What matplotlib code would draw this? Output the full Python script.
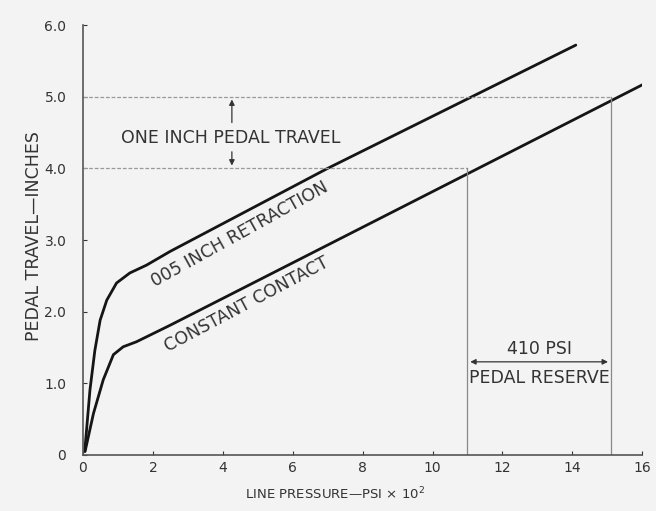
import matplotlib
matplotlib.use("Agg")
import matplotlib.pyplot as plt

# ---- data ----
retract_x = [0.05, 0.2, 0.34, 0.49, 0.68, 0.96, 1.34, 1.82, 2.49, 7.0, 14.1]
retract_y = [0.05, 0.91, 1.46, 1.88, 2.16, 2.40, 2.54, 2.65, 2.84, 4.0, 5.72]
contact_x = [0.06, 0.3, 0.58, 0.87, 1.15, 1.53, 2.49, 16.1]
contact_y = [0.05, 0.58, 1.05, 1.40, 1.51, 1.58, 1.81, 5.19]

xticks = [0, 2, 4, 6, 8, 10, 12, 14, 16]
yticks = [0, 1, 2, 3, 4, 5, 6]
ytick_labels = ["0", "1.0", "2.0", "3.0", "4.0", "5.0", "6.0"]

travel_low, travel_high = 4.0, 5.0
reserve_left, reserve_right = 11.0, 15.1

plt.rcParams['font.family'] = ['DejaVu Sans']

big = 12.5
small = 10

txt = '#333333'
fig = plt.figure(figsize=(6.56, 5.11), dpi=100, facecolor='#f3f3f3')
ax = fig.add_axes([0.1265, 0.1096, 0.8525, 0.8414])
ax.set_facecolor('#f3f3f3')

ax.plot(retract_x, retract_y, color='#151515', lw=2.0, solid_capstyle='round', solid_joinstyle='round')
ax.plot(contact_x, contact_y, color='#151515', lw=2.0, solid_capstyle='round', solid_joinstyle='round')

# reference dashed lines
ax.plot([0, reserve_right], [travel_high, travel_high], color='#999999', lw=0.9, ls=(0, (3, 1.5)))
ax.plot([0, reserve_left], [travel_low, travel_low], color='#999999', lw=0.9, ls=(0, (3, 1.5)))
ax.plot([reserve_left, reserve_left], [0, travel_low], color='#888888', lw=0.9)
ax.plot([reserve_right, reserve_right], [0, travel_high], color='#888888', lw=0.9)

# one inch pedal travel arrows
ax.annotate('', xy=(4.26, travel_high), xytext=(4.26, 4.6),
            arrowprops=dict(arrowstyle='-|>', color='#333333', lw=0.9, mutation_scale=8))
ax.annotate('', xy=(4.26, travel_low), xytext=(4.26, 4.27),
            arrowprops=dict(arrowstyle='-|>', color='#333333', lw=0.9, mutation_scale=8))
ax.text(4.23, 4.43, 'ONE INCH PEDAL TRAVEL', ha='center', va='center', fontsize=big, color=txt)

# pedal reserve
ax.annotate('', xy=(reserve_left, 1.30), xytext=(reserve_right, 1.30),
            arrowprops=dict(arrowstyle='<|-|>', color='#333333', lw=0.9, mutation_scale=8))
ax.text((reserve_left + reserve_right) / 2, 1.48, '410 PSI', ha='center', va='center', fontsize=big, color=txt)
ax.text((reserve_left + reserve_right) / 2, 1.08, 'PEDAL RESERVE', ha='center', va='center', fontsize=big, color=txt)

# curve labels
ax.text(4.49, 3.08, '005 INCH RETRACTION', ha='center', va='center', fontsize=big, color=txt,
        rotation=29, rotation_mode='anchor')
ax.text(4.69, 2.10, 'CONSTANT CONTACT', ha='center', va='center', fontsize=big, color=txt,
        rotation=28, rotation_mode='anchor')

ax.set_xlim(0, 16)
ax.set_ylim(0, 6)
ax.set_xticks(xticks)
ax.set_xticklabels([str(v) for v in xticks])
ax.set_yticks(yticks)
ax.set_yticklabels(ytick_labels)
ax.tick_params(axis='both', labelsize=small, colors=txt, length=3, width=0.8, direction='in')
ax.tick_params(axis='x', pad=4)
ax.tick_params(axis='y', pad=12)

for s in ['top', 'right']:
    ax.spines[s].set_visible(False)
for s in ['left', 'bottom']:
    ax.spines[s].set_color('#555555')
    ax.spines[s].set_linewidth(1.2)

ax.set_xlabel('LINE PRESSURE\u2014PSI \u00d7 10$^2$', fontsize=9.5, color=txt)
ax.xaxis.set_label_coords(0.45, -0.072)
ax.set_ylabel('PEDAL TRAVEL\u2014INCHES', fontsize=big, color=txt)
ax.yaxis.set_label_coords(-0.072, 0.51)

fig.savefig('out.png', dpi=100, facecolor=fig.get_facecolor())
